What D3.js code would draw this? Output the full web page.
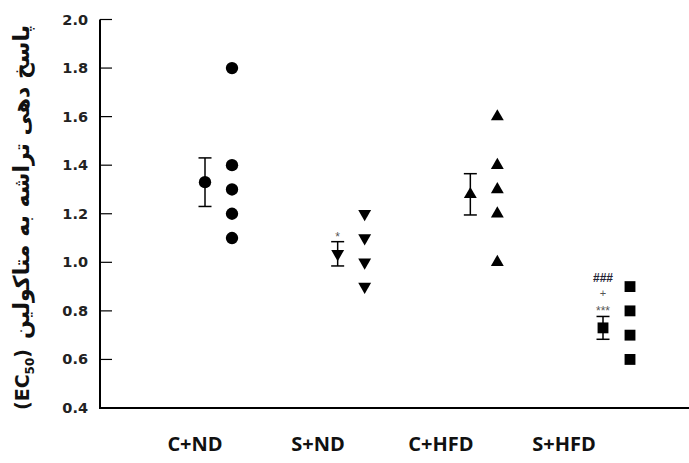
<!DOCTYPE html>
<meta charset="utf-8">
<style>
body { margin: 0; background: #fff; }
.tick-label { font: bold 14.5px "DejaVu Sans", sans-serif; fill: #222; text-anchor: end; }
.cat { font: bold 20px "Open Sans", sans-serif; fill: #111; text-anchor: middle; }
.ylab { font-weight: bold; font-family: "DejaVu Sans", sans-serif; fill: #111; }
</style>
<svg width="689" height="463"></svg>
<script src="https://d3js.org/d3.v7.min.js"></script>
<script>

var groups = ["C+ND", "S+ND", "C+HFD", "S+HFD"];
var shapes = ["circle", "triangleDown", "triangle", "square"];
var means = [1.33, 1.035, 1.28, 0.73];
var sems = [0.10, 0.05, 0.085, 0.047];
var points = [
  [1.8, 1.4, 1.3, 1.2, 1.1],
  [1.2, 1.1, 1.0, 0.9],
  [1.6, 1.4, 1.3, 1.2, 1.0],
  [0.9, 0.8, 0.7, 0.6]
];
var marks = [[], ["*"], [], ["###", "+", "***"]];
var yTicks = [0.4, 0.6, 0.8, 1.0, 1.2, 1.4, 1.6, 1.8, 2.0];

var svg = d3.select("svg");

var y = d3.scaleLinear().domain([0.4, 2.0]).range([408, 19.5]);
var xMean = d3.scalePoint().domain(groups).range([205, 603]);
var xLab = d3.scalePoint().domain(groups).range([195, 564]);
var dotOffset = 27;

// axes
svg.append("line").attr("x1", 100).attr("x2", 100).attr("y1", y(2.0)).attr("y2", y(0.4) + 1)
    .attr("stroke", "#000").attr("stroke-width", 2);
svg.append("line").attr("x1", 99).attr("x2", 689).attr("y1", y(0.4)).attr("y2", y(0.4))
    .attr("stroke", "#000").attr("stroke-width", 2);

svg.selectAll(".tk").data(yTicks.slice(1)).enter().append("line")
    .attr("x1", 100).attr("x2", 112)
    .attr("y1", function(d) { return y(d); }).attr("y2", function(d) { return y(d); })
    .attr("stroke", "#000").attr("stroke-width", 1.2);

svg.selectAll(".tick-label").data(yTicks).enter().append("text")
    .attr("class", "tick-label")
    .attr("x", 88).attr("y", function(d) { return y(d) + 5; })
    .text(function(d) { return d.toFixed(1); });

svg.selectAll(".cat").data(groups).enter().append("text")
    .attr("class", "cat")
    .attr("x", function(d) { return xLab(d); }).attr("y", 451)
    .text(function(d) { return d; });

// y label
var lab = svg.append("g").attr("transform", "translate(29,410) rotate(-90)");
var ec = lab.append("text").attr("class", "ylab").attr("font-size", "19px").attr("x", 0).attr("y", 0);
ec.append("tspan").text("(EC");
ec.append("tspan").attr("font-size", "12px").attr("dy", 5).text("50");
ec.append("tspan").attr("dy", -5).text(")");
var ecLen = ec.node().getComputedTextLength();
var faStart = ecLen + 10;
var fa = lab.append("text").attr("class", "ylab").attr("font-size", "16px")
    .attr("x", faStart).attr("y", 0)
    .attr("direction", "rtl").attr("text-anchor", "end")
    .text("پاسخ دهی تراشه به متاکولین");
var len = fa.node().getComputedTextLength();
fa.attr("font-size", Math.min(22, 16 * (395 - faStart) / len) + "px");

var sym = {
  circle: d3.symbol().type(d3.symbolCircle).size(120),
  triangle: d3.symbol().type(d3.symbolTriangle).size(72),
  triangleDown: d3.symbol().type(d3.symbolTriangle).size(72),
  square: d3.symbol().type(d3.symbolSquare).size(118)
};
function shapeTransform(s, cx, cy) {
  return "translate(" + cx + "," + cy + ")" + (s === "triangleDown" ? " rotate(180)" : "");
}

groups.forEach(function(g, i) {
  var cx = xMean(g);
  var gg = svg.append("g");
  var top = y(means[i] + sems[i]), bot = y(means[i] - sems[i]);
  gg.append("line").attr("x1", cx).attr("x2", cx).attr("y1", top).attr("y2", bot)
      .attr("stroke", "#000").attr("stroke-width", 1.5);
  [top, bot].forEach(function(v) {
    gg.append("line").attr("x1", cx - 6.5).attr("x2", cx + 6.5).attr("y1", v).attr("y2", v)
        .attr("stroke", "#000").attr("stroke-width", 1.5);
  });
  gg.append("path").attr("d", sym[shapes[i]]())
      .attr("transform", shapeTransform(shapes[i], cx, y(means[i])));
  gg.selectAll(".pt").data(points[i]).enter().append("path")
      .attr("d", sym[shapes[i]]())
      .attr("transform", function(d) { return shapeTransform(shapes[i], cx + dotOffset, y(d)); });

  marks[i].forEach(function(m, j) {
    var n = marks[i].length;
    var ty = top - 8 - (n - 1 - j) * 15;
    gg.append("text").attr("x", cx).attr("y", ty + (m.indexOf("*") >= 0 ? 7 : 4))
        .attr("text-anchor", "middle")
        .attr("font-family", "Liberation Sans, sans-serif")
        .attr("font-size", m === "###" ? "12px" : (m === "+" ? "11px" : "12px"))
        .attr("font-weight", m === "###" ? "bold" : "normal")
        .attr("fill", m === "###" ? "#223" : "#555")
        .text(m);
  });
});

</script>
